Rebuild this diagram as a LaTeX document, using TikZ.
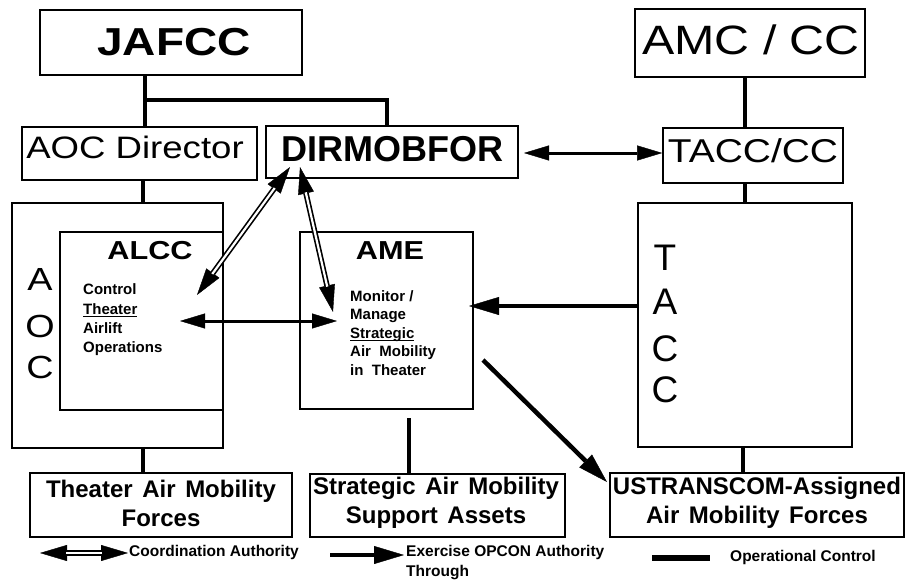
\documentclass[tikz,border=0pt]{standalone}
\usepackage{fontspec}
\setmainfont{Liberation Sans}
\newfontfamily\widefont[FakeStretch=1.18]{Liberation Sans}
\usetikzlibrary{arrows.meta}
% wide word gap used in the bottom boxes
\newcommand\wsp{\hspace{0.4em}}
% underline drawn just under the baseline, through descenders
\newcommand\baseul[1]{\setbox0\hbox{#1}\rlap{\rule[-2.6pt]{\wd0}{1.2pt}}\box0}

\tikzset{
  box/.style={draw, line width=1.6pt, inner sep=0pt},
  lbl/.style={inner sep=0pt},
  body/.style={inner sep=0pt, align=left, anchor=west},
  bottomtxt/.style={inner sep=0pt, align=center,
    font=\bfseries\fontsize{24}{29}\selectfont},
  legendtxt/.style={inner sep=0pt, anchor=west, align=left,
    font=\bfseries\fontsize{15.5}{20}\selectfont},
  opc/.style={line width=4.5pt},
  biarrow/.style={line width=3pt,
    {Triangle[length=25pt,width=15pt,line width=0.4pt]}-{Triangle[length=25pt,width=15pt,line width=0.4pt]}},
  onearrow/.style={line width=4.5pt,
    -{Triangle[length=30pt,width=18pt,line width=0.4pt]}},
  coordouter/.style={line width=5.5pt,
    {Triangle[length=27pt,width=16pt,line width=0.4pt]}-{Triangle[length=27pt,width=16pt,line width=0.4pt]}},
  coordcore/.style={draw=white, line width=2.2pt, shorten <=26pt, shorten >=26pt},
}

\begin{document}
\begin{tikzpicture}[x=1pt,y=-1pt]
\fill[white] (0,0) rectangle (906,586);
\useasboundingbox (0,0) rectangle (906,586);

% ---- boxes ----
\node[box, minimum width=262pt, minimum height=65pt] (jafcc)   at (171,42.5) {};
\node[box, minimum width=230pt, minimum height=68pt] (amccc)   at (750,43) {};
\node[box, minimum width=235pt, minimum height=53pt] (aocdir)  at (139.5,153.5) {};
\node[box, minimum width=252pt, minimum height=52pt] (dirmob)  at (392,152) {};
\node[box, minimum width=180pt, minimum height=55pt] (taccc)   at (753,155.5) {};
\node[box, minimum width=211pt, minimum height=245pt] (aoc)    at (117.5,325.5) {};
\node[box, minimum width=163pt, minimum height=178pt] (alcc)   at (141.5,321) {};
\node[box, minimum width=173pt, minimum height=177pt] (ame)    at (386.5,320.5) {};
\node[box, minimum width=214pt, minimum height=244pt] (tacc)   at (745,325) {};
\node[box, minimum width=262pt, minimum height=64pt] (theater) at (161,505) {};
\node[box, minimum width=255pt, minimum height=63pt] (strat)   at (437.5,505.5) {};
\node[box, minimum width=294pt, minimum height=64pt] (ustrans) at (757,505) {};

% ---- box titles ----
\node[lbl, font=\widefont\bfseries\fontsize{39}{40}\selectfont] (jafcc-t) at (174,42.5) {JAFCC};
\node[lbl, font=\widefont\fontsize{41}{42}\selectfont] (amccc-t) at (751,40) {AMC / CC};
\node[lbl, font=\widefont\fontsize{31}{32}\selectfont] (aocdir-t) at (135,147) {AOC Director};
\node[lbl, font=\bfseries\fontsize{36}{37}\selectfont] (dirmob-t) at (392.5,149) {DIRMOBFOR};
\node[lbl, font=\widefont\fontsize{33}{34}\selectfont] (taccc-t) at (753,151) {TACC/CC};
\node[lbl, font=\widefont\bfseries\fontsize{26}{27}\selectfont] (alcc-t) at (150,251) {ALCC};
\node[lbl, font=\widefont\bfseries\fontsize{26}{27}\selectfont] (ame-t) at (390,251) {AME};

% vertical letters
\node[lbl, font=\widefont\fontsize{32}{32}\selectfont] (aoc-a) at (40,279) {A};
\node[lbl, font=\widefont\fontsize{32}{32}\selectfont] (aoc-o) at (40,326) {O};
\node[lbl, font=\widefont\fontsize{32}{32}\selectfont] (aoc-c) at (40,367) {C};
\node[lbl, font=\fontsize{37}{37}\selectfont] (tacc-1) at (665,258) {T};
\node[lbl, font=\fontsize{37}{37}\selectfont] (tacc-2) at (665,302) {A};
\node[lbl, font=\fontsize{37}{37}\selectfont] (tacc-3) at (665,349) {C};
\node[lbl, font=\fontsize{37}{37}\selectfont] (tacc-4) at (665,390) {C};

% body texts
\node[body, font=\bfseries\fontsize{15}{19.3}\selectfont] (alcc-b) at (83,320)
  {Control\\\baseul{Theater}\\Airlift\\Operations};
\node[body, font=\bfseries\fontsize{15}{18.6}\selectfont] (ame-b) at (350,333)
  {Monitor /\\Manage\\\baseul{Strategic}\\Air\ \ Mobility\\in\ \ Theater};

% bottom box texts
\node[bottomtxt] (theater-t) at (161,503) {Theater\wsp Air\wsp Mobility\\Forces};
\node[bottomtxt] (strat-t)   at (436,503) {Strategic\wsp Air\wsp Mobility\\Support\wsp Assets};
\node[bottomtxt] (ustrans-t) at (757,503) {USTRANSCOM-Assigned\\Air\wsp Mobility\wsp Forces};

% ---- operational control lines ----
\draw[opc] (jafcc.south -| 145,0) -- (aocdir.north -| 145,0);
\draw[opc] (145,100) -- (387,100) -- (dirmob.north -| 387,0);
\draw[opc] (aocdir.south -| 143,0) -- (aoc.north -| 143,0);
\draw[opc] (aoc.south -| 143,0) -- (theater.north -| 143,0);
\coordinate (amefoot) at (409,418);
\draw[opc] (amefoot) -- (strat.north -| amefoot);
\draw[opc] (amccc.south -| 745,0) -- (taccc.north -| 745,0);
\draw[opc] (taccc.south -| 745,0) -- (tacc.north -| 745,0);
\draw[opc] (tacc.south -| 743,0) -- (ustrans.north -| 743,0);

% ---- arrows ----
\coordinate (dirmobR) at (524,153);
\draw[biarrow] (dirmobR) -- (taccc.west |- dirmobR);

\coordinate (alccpt) at (180,321);
\coordinate (amept)  at (337,321);
\draw[biarrow] (alccpt) -- (amept);

\coordinate (taccL) at (tacc.west |- 0,306);
\coordinate (ameR)  at (469,306);
\draw[onearrow] (taccL) -- (ameR);

\coordinate (amestart) at (483,360);
\coordinate (ustransL) at (607,482);
\draw[onearrow] (amestart) -- (ustransL);

% coordination authority links
\coordinate (dmA) at (290,167);
\coordinate (dmB) at (300,167);
\coordinate (alccC) at (197,295);
\coordinate (ameC) at (333,312);
\draw[coordouter] (dmA) -- (alccC);
\draw[coordcore]  (dmA) -- (alccC);
\draw[coordouter] (dmB) -- (ameC);
\draw[coordcore]  (dmB) -- (ameC);

% ---- legend ----
\coordinate (lgc1) at (40,553);
\coordinate (lgc2) at (128,553);
\draw[coordouter] (lgc1) -- (lgc2);
\draw[coordcore]  (lgc1) -- (lgc2);
\node[legendtxt] (lgc-t) at (129,552) {Coordination Authority};

\coordinate (lge1) at (330,555);
\coordinate (lge2) at (404,555);
\draw[onearrow] (lge1) -- (lge2);
\node[legendtxt] (lge-t) at (406,563) {Exercise OPCON Authority\\Through};

\coordinate (lgo1) at (652,558);
\coordinate (lgo2) at (710,558);
\draw[line width=5.5pt] (lgo1) -- (lgo2);
\node[legendtxt] (lgo-t) at (730,557) {Operational Control};
\end{tikzpicture}
\end{document}
